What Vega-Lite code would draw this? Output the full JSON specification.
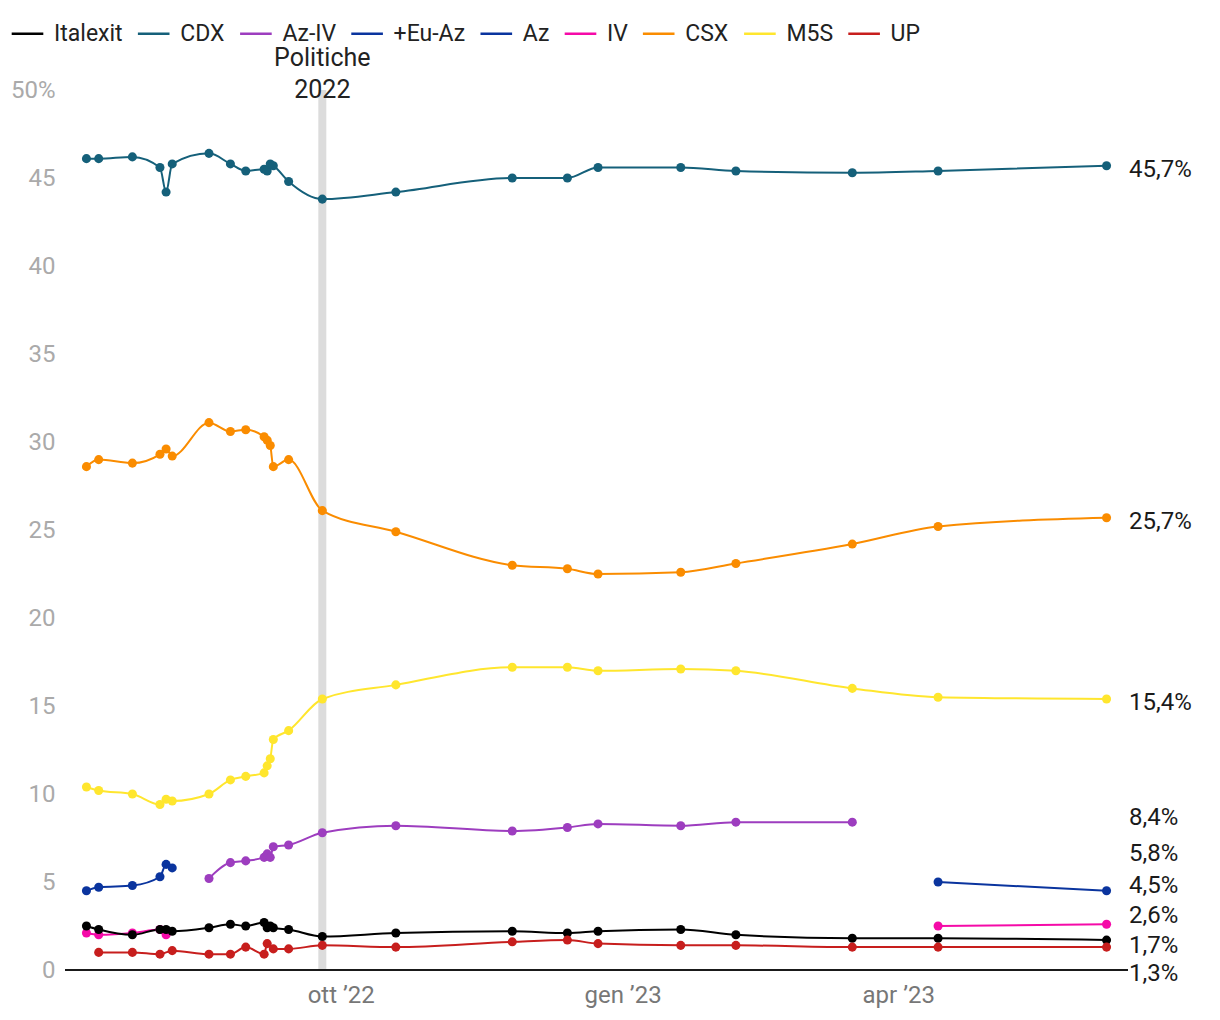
{
  "$schema": "https://vega.github.io/schema/vega-lite/v6.json",
  "width": 1063,
  "height": 880,
  "autosize": {"type": "none"},
  "padding": {"left": 65, "top": 90, "right": 92, "bottom": 50},
  "background": "white",
  "datasets": {
    "polls": [
      {"d":"2022-07-10","s":"CDX","v":46.1},{"d":"2022-07-14","s":"CDX","v":46.1},{"d":"2022-07-25","s":"CDX","v":46.2},{"d":"2022-08-03","s":"CDX","v":45.6},{"d":"2022-08-05","s":"CDX","v":44.2},{"d":"2022-08-07","s":"CDX","v":45.8},{"d":"2022-08-19","s":"CDX","v":46.4},{"d":"2022-08-26","s":"CDX","v":45.8},{"d":"2022-08-31","s":"CDX","v":45.4},{"d":"2022-09-06","s":"CDX","v":45.5},{"d":"2022-09-07","s":"CDX","v":45.4},{"d":"2022-09-08","s":"CDX","v":45.8},{"d":"2022-09-09","s":"CDX","v":45.7},{"d":"2022-09-14","s":"CDX","v":44.8},{"d":"2022-09-25","s":"CDX","v":43.8},{"d":"2022-10-19","s":"CDX","v":44.2},{"d":"2022-11-26","s":"CDX","v":45.0},{"d":"2022-12-14","s":"CDX","v":45.0},{"d":"2022-12-24","s":"CDX","v":45.6},{"d":"2023-01-20","s":"CDX","v":45.6},{"d":"2023-02-07","s":"CDX","v":45.4},{"d":"2023-03-17","s":"CDX","v":45.3},{"d":"2023-04-14","s":"CDX","v":45.4},{"d":"2023-06-08","s":"CDX","v":45.7},
      {"d":"2022-07-10","s":"CSX","v":28.6},{"d":"2022-07-14","s":"CSX","v":29.0},{"d":"2022-07-25","s":"CSX","v":28.8},{"d":"2022-08-03","s":"CSX","v":29.3},{"d":"2022-08-05","s":"CSX","v":29.6},{"d":"2022-08-07","s":"CSX","v":29.2},{"d":"2022-08-19","s":"CSX","v":31.1},{"d":"2022-08-26","s":"CSX","v":30.6},{"d":"2022-08-31","s":"CSX","v":30.7},{"d":"2022-09-06","s":"CSX","v":30.3},{"d":"2022-09-07","s":"CSX","v":30.1},{"d":"2022-09-08","s":"CSX","v":29.8},{"d":"2022-09-09","s":"CSX","v":28.6},{"d":"2022-09-14","s":"CSX","v":29.0},{"d":"2022-09-25","s":"CSX","v":26.1},{"d":"2022-10-19","s":"CSX","v":24.9},{"d":"2022-11-26","s":"CSX","v":23.0},{"d":"2022-12-14","s":"CSX","v":22.8},{"d":"2022-12-24","s":"CSX","v":22.5},{"d":"2023-01-20","s":"CSX","v":22.6},{"d":"2023-02-07","s":"CSX","v":23.1},{"d":"2023-03-17","s":"CSX","v":24.2},{"d":"2023-04-14","s":"CSX","v":25.2},{"d":"2023-06-08","s":"CSX","v":25.7},
      {"d":"2022-07-10","s":"M5S","v":10.4},{"d":"2022-07-14","s":"M5S","v":10.2},{"d":"2022-07-25","s":"M5S","v":10.0},{"d":"2022-08-03","s":"M5S","v":9.4},{"d":"2022-08-05","s":"M5S","v":9.7},{"d":"2022-08-07","s":"M5S","v":9.6},{"d":"2022-08-19","s":"M5S","v":10.0},{"d":"2022-08-26","s":"M5S","v":10.8},{"d":"2022-08-31","s":"M5S","v":11.0},{"d":"2022-09-06","s":"M5S","v":11.2},{"d":"2022-09-07","s":"M5S","v":11.6},{"d":"2022-09-08","s":"M5S","v":12.0},{"d":"2022-09-09","s":"M5S","v":13.1},{"d":"2022-09-14","s":"M5S","v":13.6},{"d":"2022-09-25","s":"M5S","v":15.4},{"d":"2022-10-19","s":"M5S","v":16.2},{"d":"2022-11-26","s":"M5S","v":17.2},{"d":"2022-12-14","s":"M5S","v":17.2},{"d":"2022-12-24","s":"M5S","v":17.0},{"d":"2023-01-20","s":"M5S","v":17.1},{"d":"2023-02-07","s":"M5S","v":17.0},{"d":"2023-03-17","s":"M5S","v":16.0},{"d":"2023-04-14","s":"M5S","v":15.5},{"d":"2023-06-08","s":"M5S","v":15.4},
      {"d":"2022-08-19","s":"Az-IV","v":5.2},{"d":"2022-08-26","s":"Az-IV","v":6.1},{"d":"2022-08-31","s":"Az-IV","v":6.2},{"d":"2022-09-06","s":"Az-IV","v":6.4},{"d":"2022-09-07","s":"Az-IV","v":6.6},{"d":"2022-09-08","s":"Az-IV","v":6.4},{"d":"2022-09-09","s":"Az-IV","v":7.0},{"d":"2022-09-14","s":"Az-IV","v":7.1},{"d":"2022-09-25","s":"Az-IV","v":7.8},{"d":"2022-10-19","s":"Az-IV","v":8.2},{"d":"2022-11-26","s":"Az-IV","v":7.9},{"d":"2022-12-14","s":"Az-IV","v":8.1},{"d":"2022-12-24","s":"Az-IV","v":8.3},{"d":"2023-01-20","s":"Az-IV","v":8.2},{"d":"2023-02-07","s":"Az-IV","v":8.4},{"d":"2023-03-17","s":"Az-IV","v":8.4},
      {"d":"2022-07-10","s":"+Eu-Az","v":4.5},{"d":"2022-07-14","s":"+Eu-Az","v":4.7},{"d":"2022-07-25","s":"+Eu-Az","v":4.8},{"d":"2022-08-03","s":"+Eu-Az","v":5.3},{"d":"2022-08-05","s":"+Eu-Az","v":6.0},{"d":"2022-08-07","s":"+Eu-Az","v":5.8},
      {"d":"2023-04-14","s":"Az","v":5.0},{"d":"2023-06-08","s":"Az","v":4.5},
      {"d":"2022-07-10","s":"IV","v":2.1,"seg":"a"},{"d":"2022-07-14","s":"IV","v":2.0,"seg":"a"},{"d":"2022-07-25","s":"IV","v":2.1,"seg":"a"},{"d":"2022-08-03","s":"IV","v":2.3,"seg":"a"},{"d":"2022-08-05","s":"IV","v":2.0,"seg":"a"},{"d":"2023-04-14","s":"IV","v":2.5,"seg":"b"},{"d":"2023-06-08","s":"IV","v":2.6,"seg":"b"},
      {"d":"2022-07-10","s":"Italexit","v":2.5},{"d":"2022-07-14","s":"Italexit","v":2.3},{"d":"2022-07-25","s":"Italexit","v":2.0},{"d":"2022-08-03","s":"Italexit","v":2.3},{"d":"2022-08-05","s":"Italexit","v":2.3},{"d":"2022-08-07","s":"Italexit","v":2.2},{"d":"2022-08-19","s":"Italexit","v":2.4},{"d":"2022-08-26","s":"Italexit","v":2.6},{"d":"2022-08-31","s":"Italexit","v":2.5},{"d":"2022-09-06","s":"Italexit","v":2.7},{"d":"2022-09-07","s":"Italexit","v":2.4},{"d":"2022-09-08","s":"Italexit","v":2.5},{"d":"2022-09-09","s":"Italexit","v":2.4},{"d":"2022-09-14","s":"Italexit","v":2.3},{"d":"2022-09-25","s":"Italexit","v":1.9},{"d":"2022-10-19","s":"Italexit","v":2.1},{"d":"2022-11-26","s":"Italexit","v":2.2},{"d":"2022-12-14","s":"Italexit","v":2.1},{"d":"2022-12-24","s":"Italexit","v":2.2},{"d":"2023-01-20","s":"Italexit","v":2.3},{"d":"2023-02-07","s":"Italexit","v":2.0},{"d":"2023-03-17","s":"Italexit","v":1.8},{"d":"2023-04-14","s":"Italexit","v":1.8},{"d":"2023-06-08","s":"Italexit","v":1.7},
      {"d":"2022-07-14","s":"UP","v":1.0},{"d":"2022-07-25","s":"UP","v":1.0},{"d":"2022-08-03","s":"UP","v":0.9},{"d":"2022-08-07","s":"UP","v":1.1},{"d":"2022-08-19","s":"UP","v":0.9},{"d":"2022-08-26","s":"UP","v":0.9},{"d":"2022-08-31","s":"UP","v":1.3},{"d":"2022-09-06","s":"UP","v":0.9},{"d":"2022-09-07","s":"UP","v":1.5},{"d":"2022-09-09","s":"UP","v":1.2},{"d":"2022-09-14","s":"UP","v":1.2},{"d":"2022-09-25","s":"UP","v":1.4},{"d":"2022-10-19","s":"UP","v":1.3},{"d":"2022-11-26","s":"UP","v":1.6},{"d":"2022-12-14","s":"UP","v":1.7},{"d":"2022-12-24","s":"UP","v":1.5},{"d":"2023-01-20","s":"UP","v":1.4},{"d":"2023-02-07","s":"UP","v":1.4},{"d":"2023-03-17","s":"UP","v":1.3},{"d":"2023-04-14","s":"UP","v":1.3},{"d":"2023-06-08","s":"UP","v":1.3}
    ],
    "labels": [
      {"s":"CDX","v":45.7},{"s":"CSX","v":25.7},{"s":"M5S","v":15.4},{"s":"Az-IV","v":8.4},{"s":"+Eu-Az","v":5.8},{"s":"Az","v":4.5},{"s":"IV","v":2.6},{"s":"Italexit","v":1.7},{"s":"UP","v":1.3}
    ]
  },
  "layer": [
    {
      "data": {"values": [{"e": "Politiche 2022"}]},
      "mark": {"type": "rule", "color": "#dcdcdc", "strokeWidth": 8},
      "encoding": {
        "x": {"datum": {"year": 2022, "month": 9, "date": 25}, "type": "temporal",
          "scale": {"domain": [{"year": 2022, "month": 7, "date": 3}, {"year": 2023, "month": 6, "date": 15}]},
          "axis": {"title": null, "values": [{"year": 2022, "month": 10, "date": 1}, {"year": 2023, "month": 1, "date": 1}, {"year": 2023, "month": 4, "date": 1}],
            "labelExpr": "month(datum.value)==9 ? 'ott ’22' : (month(datum.value)==0 ? 'gen ’23' : 'apr ’23')",
            "ticks": false, "domain": false, "grid": false, "labelFontSize": 24, "labelColor": "#777777", "labelPadding": 13, "labelFont": "Roboto"}
        }
      }
    },
    {
      "data": {"values": [{"e": "Politiche 2022"}]},
      "mark": {"type": "text", "text": ["Politiche", "2022"], "fontSize": 25, "lineHeight": 32, "baseline": "alphabetic", "align": "center", "dy": -24, "color": "#222222", "font": "Roboto"},
      "encoding": {
        "x": {"datum": {"year": 2022, "month": 9, "date": 25}, "type": "temporal"},
        "y": {"datum": 50, "type": "quantitative"}
      }
    },
    {
      "data": {"values": [{"z": 0}]},
      "mark": {"type": "rule", "color": "#1a1a1a", "strokeWidth": 2},
      "encoding": {"y": {"field": "z", "type": "quantitative"}}
    },
    {
      "data": {"name": "polls"},
      "mark": {"type": "line", "interpolate": "monotone", "strokeWidth": 2},
      "encoding": {
        "x": {"field": "d", "type": "temporal"},
        "y": {"field": "v", "type": "quantitative",
          "scale": {"domain": [0, 50]},
          "axis": {"title": null, "values": [0, 5, 10, 15, 20, 25, 30, 35, 40, 45, 50],
            "labelExpr": "datum.value == 50 ? '50%' : datum.label",
            "ticks": false, "domain": false, "gridColor": "#e2e2e2", "gridWidth": 1.5,
            "labelFontSize": 24, "labelColor": "#aaaaaa", "labelPadding": 10, "labelFont": "Roboto"}
        },
        "color": {"field": "s", "type": "nominal",
          "scale": {
            "domain": ["Italexit", "CDX", "Az-IV", "+Eu-Az", "Az", "IV", "CSX", "M5S", "UP"],
            "range": ["#000000", "#15607a", "#9d3dbf", "#0a349e", "#0a349e", "#f50aa8", "#fa8c00", "#ffe62e", "#c71e1d"]
          },
          "legend": {"title": null}
        },
        "detail": {"field": "seg"}
      }
    },
    {
      "data": {"name": "polls"},
      "mark": {"type": "point", "filled": true, "opacity": 1, "size": 82},
      "encoding": {
        "x": {"field": "d", "type": "temporal"},
        "y": {"field": "v", "type": "quantitative"},
        "color": {"field": "s", "type": "nominal", "legend": null}
      }
    },
    {
      "data": {"name": "labels"},
      "transform": [{"filter": "indexof(['CDX','CSX','M5S'], datum.s) >= 0"}, {"calculate": "replace(format(datum.v, '.1f'), '.', ',') + '%'", "as": "t"}],
      "mark": {"type": "text", "align": "left", "baseline": "middle", "dx": 1, "dy": 4, "fontSize": 24, "color": "#1a1a1a", "font": "Roboto"},
      "encoding": {"x": {"datum": {"year": 2023, "month": 6, "date": 15}, "type": "temporal"}, "y": {"field": "v", "type": "quantitative"}, "text": {"field": "t"}}
    },
    {
      "data": {"name": "labels"},
      "transform": [{"filter": "datum.s == 'Az-IV'"}, {"calculate": "replace(format(datum.v, '.1f'), '.', ',') + '%'", "as": "t"}],
      "mark": {"type": "text", "align": "left", "baseline": "middle", "dx": 1, "dy": -4, "fontSize": 24, "color": "#1a1a1a", "font": "Roboto"},
      "encoding": {"x": {"datum": {"year": 2023, "month": 6, "date": 15}, "type": "temporal"}, "y": {"field": "v", "type": "quantitative"}, "text": {"field": "t"}}
    },
    {
      "data": {"name": "labels"},
      "transform": [{"filter": "datum.s == '+Eu-Az'"}, {"calculate": "replace(format(datum.v, '.1f'), '.', ',') + '%'", "as": "t"}],
      "mark": {"type": "text", "align": "left", "baseline": "middle", "dx": 1, "dy": -14, "fontSize": 24, "color": "#1a1a1a", "font": "Roboto"},
      "encoding": {"x": {"datum": {"year": 2023, "month": 6, "date": 15}, "type": "temporal"}, "y": {"field": "v", "type": "quantitative"}, "text": {"field": "t"}}
    },
    {
      "data": {"name": "labels"},
      "transform": [{"filter": "datum.s == 'Az'"}, {"calculate": "replace(format(datum.v, '.1f'), '.', ',') + '%'", "as": "t"}],
      "mark": {"type": "text", "align": "left", "baseline": "middle", "dx": 1, "dy": -5, "fontSize": 24, "color": "#1a1a1a", "font": "Roboto"},
      "encoding": {"x": {"datum": {"year": 2023, "month": 6, "date": 15}, "type": "temporal"}, "y": {"field": "v", "type": "quantitative"}, "text": {"field": "t"}}
    },
    {
      "data": {"name": "labels"},
      "transform": [{"filter": "datum.s == 'IV'"}, {"calculate": "replace(format(datum.v, '.1f'), '.', ',') + '%'", "as": "t"}],
      "mark": {"type": "text", "align": "left", "baseline": "middle", "dx": 1, "dy": -8, "fontSize": 24, "color": "#1a1a1a", "font": "Roboto"},
      "encoding": {"x": {"datum": {"year": 2023, "month": 6, "date": 15}, "type": "temporal"}, "y": {"field": "v", "type": "quantitative"}, "text": {"field": "t"}}
    },
    {
      "data": {"name": "labels"},
      "transform": [{"filter": "datum.s == 'Italexit'"}, {"calculate": "replace(format(datum.v, '.1f'), '.', ',') + '%'", "as": "t"}],
      "mark": {"type": "text", "align": "left", "baseline": "middle", "dx": 1, "dy": 6, "fontSize": 24, "color": "#1a1a1a", "font": "Roboto"},
      "encoding": {"x": {"datum": {"year": 2023, "month": 6, "date": 15}, "type": "temporal"}, "y": {"field": "v", "type": "quantitative"}, "text": {"field": "t"}}
    },
    {
      "data": {"name": "labels"},
      "transform": [{"filter": "datum.s == 'UP'"}, {"calculate": "replace(format(datum.v, '.1f'), '.', ',') + '%'", "as": "t"}],
      "mark": {"type": "text", "align": "left", "baseline": "middle", "dx": 1, "dy": 27, "fontSize": 24, "color": "#1a1a1a", "font": "Roboto"},
      "encoding": {"x": {"datum": {"year": 2023, "month": 6, "date": 15}, "type": "temporal"}, "y": {"field": "v", "type": "quantitative"}, "text": {"field": "t"}}
    }
  ],
  "config": {
    "font": "Roboto",
    "view": {"stroke": null},
    "legend": {
      "orient": "none", "legendX": -55, "legendY": -74, "direction": "horizontal", "columns": 9,
      "symbolType": "stroke", "symbolSize": 1000, "symbolStrokeWidth": 2.5,
      "labelFontSize": 23, "labelColor": "#222222", "labelFont": "Roboto",
      "columnPadding": 9.2, "labelOffset": 9, "symbolOffset": 0, "padding": 0
    }
  }
}
